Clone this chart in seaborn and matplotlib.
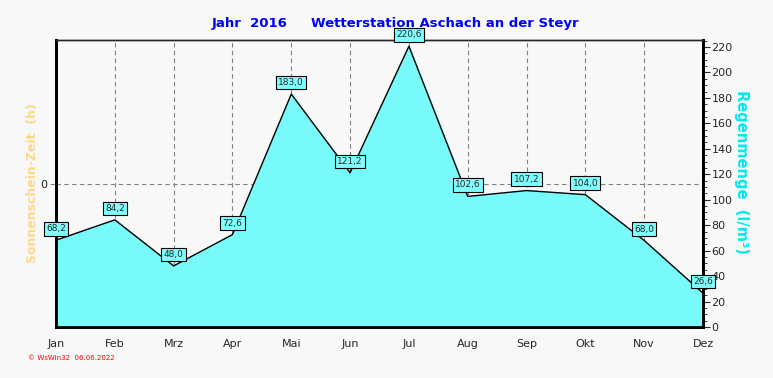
import numpy as np
import pandas as pd
import seaborn as sns
import matplotlib.pyplot as plt
from matplotlib.ticker import MultipleLocator

# Daten
monate = ["Jan", "Feb", "Mrz", "Apr", "Mai", "Jun", "Jul", "Aug", "Sep", "Okt", "Nov", "Dez"]
regen = [68.2, 84.2, 48.0, 72.6, 183.0, 121.2, 220.6, 102.6, 107.2, 104.0, 68.0, 26.6]

df = pd.DataFrame({"pos": np.arange(len(monate)), "monat": monate, "regen": regen})

sns.set_style("white")
plt.rcParams["font.family"] = ["DejaVu Sans"]

fig = plt.figure(figsize=(7.73, 3.78), dpi=100, facecolor="#F8F8F8")
ax = fig.add_axes([56 / 773, 51 / 378, 647 / 773, 287 / 378])
ax.set_facecolor("#F8F8F8")

# linke Achse: Sonnenschein (leer)
ax.set_ylim(-1, 1)
ax.set_yticks([0])
ax.set_yticklabels(["0"], fontsize=8)
ax.tick_params(axis="y", length=4, color="gray", pad=2)
ax.axhline(0, color="gray", ls=(0, (4, 3)), lw=0.8, zorder=0)
ax.set_ylabel("Sonnenschein-Zeit  (h)", color="#FFD88A", fontsize=9, fontweight="bold", labelpad=1)

ax.set_xlim(0, 11)
ax.set_xticks(df["pos"])
ax.set_xticklabels(monate, fontsize=8)
ax.xaxis.set_minor_locator(MultipleLocator(1 / 4))
ax.tick_params(axis="x", which="major", length=5, color="gray")
ax.tick_params(axis="x", which="minor", length=3, color="gray")
for x in df["pos"][1:-1]:
    ax.axvline(x, color="gray", ls=(0, (4, 3)), lw=0.8, zorder=0)

# rechte Achse: Regenmenge
ax2 = ax.twinx()
ax2.fill_between(df["pos"], df["regen"], color="#78FAFA", zorder=1)
sns.lineplot(data=df, x="pos", y="regen", ax=ax2, color="black", lw=1, zorder=2)
ax2.set_ylim(0, 225.5)
ax2.yaxis.set_major_locator(MultipleLocator(20))
ax2.yaxis.set_minor_locator(MultipleLocator(5))
ax2.tick_params(axis="y", which="major", length=5, labelsize=8, pad=1)
ax2.tick_params(axis="y", which="minor", length=3)
ax2.set_ylabel("Regenmenge  (l/m³)", color="#00E8F0", fontsize=10.5,
               fontweight="bold", rotation=-90, labelpad=12, y=0.54)
ax2.set_xlabel("")

for x, v in zip(df["pos"], df["regen"]):
    ax2.annotate(f"{v:.1f}".replace(".", ","), (x, v), xytext=(0, 5), textcoords="offset points",
                 ha="center", va="bottom", fontsize=6.5, zorder=5,
                 bbox=dict(boxstyle="square,pad=0.25", fc="#7FFFFF", ec="black", lw=0.8))

for a in (ax, ax2):
    for s in ("left", "right", "bottom"):
        a.spines[s].set_linewidth(2)
        a.spines[s].set_color("black")
    a.spines["top"].set_linewidth(1)

# Titel
fig.text(250 / 773, 1 - 23 / 378, "Jahr  2016", color="#0000FF", fontsize=9.5, fontweight="bold", ha="center", va="center")
fig.text(445 / 773, 1 - 23 / 378, "Wetterstation Aschach an der Steyr", color="#0000FF", fontsize=9.5,
         fontweight="bold", ha="center", va="center")
fig.text(28 / 773, 1 - 358 / 378, "© WsWin32  06.06.2022", color="red", fontsize=5, ha="left", va="center")

fig.savefig("out.png", dpi=100, facecolor=fig.get_facecolor())
